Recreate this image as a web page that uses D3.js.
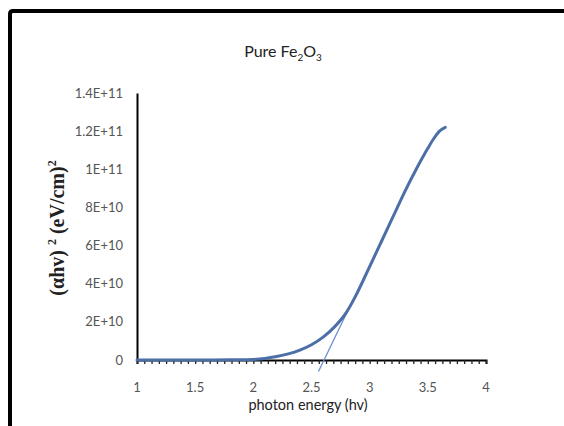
<!DOCTYPE html>
<html>
<head>
<meta charset="utf-8">
<script src="https://cdn.jsdelivr.net/npm/d3@7"></script>
<style>
  html, body { margin: 0; padding: 0; background: #fff; }
  svg { display: block; }
</style>
</head>
<body>
<svg id="chart" width="564" height="426"></svg>
<script>
// Photon energy (eV) and (αhν)² in (eV/cm)², absorption edge of pure Fe2O3
const energy = [1.0, 1.2, 1.4, 1.6, 1.8, 2.0, 2.1, 2.2, 2.3, 2.4, 2.5, 2.6, 2.7, 2.8, 2.9, 3.0, 3.1, 3.2, 3.3, 3.4, 3.5, 3.55, 3.6, 3.65];
const alphaHv2 = [0, 0, 0, 0, 0.01e10, 0.03e10, 0.08e10, 0.18e10, 0.32e10, 0.52e10, 0.8e10, 1.2e10, 1.75e10, 2.5e10, 3.6e10, 4.9e10, 6.2e10, 7.5e10, 8.8e10, 10.0e10, 11.1e10, 11.6e10, 12.0e10, 12.2e10];

// Linear extrapolation of the straight part down to the energy axis (Eg ≈ 2.6 eV)
const tangentX = [2.56, 3.3];
const tangentY = [-0.6e10, 8.75e10];

const xTicks = [1, 1.5, 2, 2.5, 3, 3.5, 4];
const xTickLabels = ["1", "1.5", "2", "2.5", "3", "3.5", "4"];
const yTicks = [0, 2e10, 4e10, 6e10, 8e10, 1e11, 1.2e11, 1.4e11];
const yTickLabels = ["0", "2E+10", "4E+10", "6E+10", "8E+10", "1E+11", "1.2E+11", "1.4E+11"];

const svg = d3.select("#chart");
const labelFont = "Lato, 'Open Sans', sans-serif";

// Frame
svg.append("path")
  .attr("d", "M10,426 L10,14 Q10,11 13,11 L564,11")
  .attr("fill", "none")
  .attr("stroke", "#000")
  .attr("stroke-width", 4);

const x = d3.scaleLinear().domain([1, 4]).range([137, 486]);
const y = d3.scaleLinear().domain([0, 1.4e11]).range([360, 93]);

// X axis with minor ticks
const minor = d3.range(0, 49).map(i => 1 + i * 0.0625);
svg.append("g")
  .attr("transform", `translate(0,${y(0)})`)
  .call(d3.axisBottom(x).tickValues(minor).tickSize(4).tickFormat(""))
  .call(g => g.select(".domain").attr("stroke", "#000").attr("stroke-width", 2))
  .call(g => g.selectAll(".tick line").attr("stroke", "#222").attr("stroke-width", 1.3));

svg.append("g")
  .selectAll("text")
  .data(xTicks)
  .join("text")
  .attr("x", d => x(d))
  .attr("y", 392)
  .attr("text-anchor", "middle")
  .attr("font-family", labelFont)
  .attr("font-size", 13)
  .attr("fill", "#555")
  .text((d, i) => xTickLabels[i]);

// Y axis
svg.append("g")
  .attr("transform", `translate(${x(1)},0)`)
  .call(d3.axisLeft(y).tickValues([]).tickSize(0))
  .call(g => g.select(".domain").attr("stroke", "#000").attr("stroke-width", 2));

svg.append("g")
  .selectAll("text")
  .data(yTicks)
  .join("text")
  .attr("x", 123)
  .attr("y", d => y(d) + 4.5)
  .attr("text-anchor", "end")
  .attr("font-family", labelFont)
  .attr("font-size", 13)
  .attr("fill", "#555")
  .text((d, i) => yTickLabels[i]);

// Tangent line
const line = d3.line().x(d => x(d[0])).y(d => y(d[1]));
svg.append("path")
  .datum(d3.zip(tangentX, tangentY))
  .attr("d", line)
  .attr("fill", "none")
  .attr("stroke", "#6a8fd4")
  .attr("stroke-width", 1.3);

// Absorption curve
const curve = d3.line().x(d => x(d[0])).y(d => y(d[1])).curve(d3.curveMonotoneX);
svg.append("path")
  .datum(d3.zip(energy, alphaHv2))
  .attr("d", curve)
  .attr("fill", "none")
  .attr("stroke", "#4c6fa8")
  .attr("stroke-width", 3)
  .attr("stroke-linecap", "round");

// Chart title
const title = svg.append("text")
  .attr("x", 283)
  .attr("y", 57)
  .attr("text-anchor", "middle")
  .attr("font-family", labelFont)
  .attr("font-size", 16)
  .attr("fill", "#222");
title.append("tspan").text("Pure Fe");
title.append("tspan").attr("font-size", 10).attr("dy", 4).text("2");
title.append("tspan").attr("dy", -4).text("O");
title.append("tspan").attr("font-size", 10).attr("dy", 4).text("3");

// X axis title
svg.append("text")
  .attr("x", 308)
  .attr("y", 410)
  .attr("text-anchor", "middle")
  .attr("font-family", labelFont)
  .attr("font-size", 14.5)
  .attr("fill", "#222")
  .text("photon energy (hv)");

// Y axis title
const yt = svg.append("text")
  .attr("transform", "translate(64,228) rotate(-90)")
  .attr("text-anchor", "middle")
  .attr("font-family", "'Liberation Serif', 'DejaVu Serif', serif")
  .attr("font-weight", "bold")
  .attr("font-size", 20)
  .attr("fill", "#222");
yt.append("tspan").text("(αhv) ");
yt.append("tspan").attr("font-size", 12).attr("dy", -8).text("2");
yt.append("tspan").attr("dy", 8).text(" (eV/cm)");
yt.append("tspan").attr("font-size", 12).attr("dy", -8).text("2");
</script>
</body>
</html>
